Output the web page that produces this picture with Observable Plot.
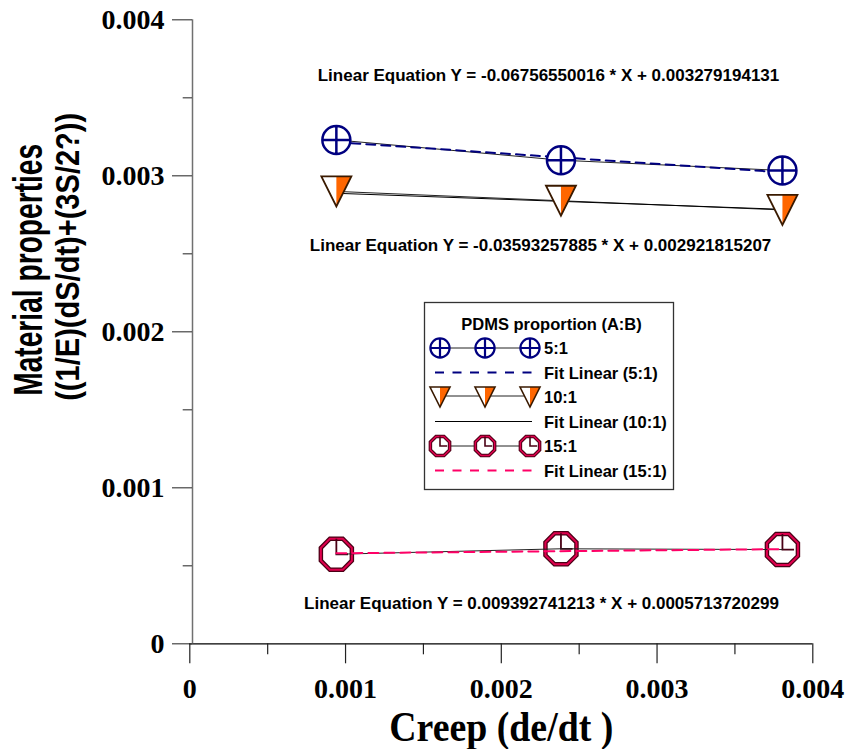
<!DOCTYPE html>
<html><head><meta charset="utf-8">
<script src="https://cdn.jsdelivr.net/npm/d3@7"></script>
<script src="https://cdn.jsdelivr.net/npm/@observablehq/plot@0.6"></script>
<style>body{margin:0;background:#fff}#chart{width:847px;height:749px}</style>
</head><body><div id="chart"></div>
<script>
// ---- data ----
const creep = [0.000941, 0.002383, 0.003805];
const ratio5 = [0.00323, 0.0031, 0.003034];
const ratio10 = [0.0029, 0.00284, 0.002781];
const ratio15 = [0.000574, 0.000609, 0.000604];
const fitX = [0.000941, 0.003805];
const fit5 = [0.0032156, 0.0030221];
const fit10 = [0.002888, 0.002785];
const fit15 = [0.0005802, 0.000607];
const equations = [
  "Linear Equation Y = -0.06756550016 * X + 0.003279194131",
  "Linear Equation Y = -0.03593257885 * X + 0.002921815207",
  "Linear Equation Y = 0.009392741213 * X + 0.0005713720299"];
const eqX = [0.002303, 0.002252, 0.002258];
const eqY = [0.003643, 0.002553, 0.000258];
const majorTicks = [0, 0.001, 0.002, 0.003, 0.004];
const minorTicks = [0.0005, 0.0015, 0.0025, 0.0035];
const tickLabels = ["0", "0.001", "0.002", "0.003", "0.004"];
const xTitle = "Creep (de/dt )";
const yTitle1 = "Material properties";
const yTitle2 = "((1/E)(dS/dt)+(3S/2?))";
const legendTitle = "PDMS proportion (A:B)";
const legendLabels = ["5:1", "Fit Linear (5:1)", "10:1", "Fit Linear (10:1)", "15:1", "Fit Linear (15:1)"];

const SANS = "Liberation Sans, Arial, sans-serif";
const SERIF = "Liberation Serif, Times New Roman, serif";
const NAVY = "#000080", ORANGE = "#FF6600", BROWN = "#3a1a00", CRIMSON = "#E0004E", DARKRED = "#4a0015", PINK = "#FF0066";

// ---- custom symbols ----
const rOf = s => Math.sqrt(s / Math.PI);
const circleCross = {draw(c, s) {const r = rOf(s); c.moveTo(r, 0); c.arc(0, 0, r, 0, 2 * Math.PI); c.closePath(); c.moveTo(-r, 0); c.lineTo(r, 0); c.moveTo(0, -r); c.lineTo(0, r);}};
const triDown = {draw(c, s) {const r = rOf(s); c.moveTo(-r, -r); c.lineTo(r, -r); c.lineTo(0, r); c.closePath();}};
const triHalf = {draw(c, s) {const r = rOf(s); c.moveTo(0, -r); c.lineTo(r, -r); c.lineTo(0, r); c.closePath();}};
const octagon = {draw(c, s) {const r = rOf(s); const R = r / Math.cos(Math.PI / 8);
  for (let k = 0; k < 8; k++) {const a = Math.PI / 8 + k * Math.PI / 4; const px = R * Math.cos(a), py = R * Math.sin(a); if (k) c.lineTo(px, py); else c.moveTo(px, py);} c.closePath();}};
const clockHand = {draw(c, s) {const r = rOf(s); c.moveTo(0, -r); c.lineTo(0, 0); c.lineTo(r * 0.75, 0);}};

const rows = ys => creep.map((x, i) => ({x, y: ys[i]}));
const frows = ys => fitX.map((x, i) => ({x, y: ys[i]}));
const pts5 = rows(ratio5), pts10 = rows(ratio10), pts15 = rows(ratio15);
const eqs = equations.map((t, i) => ({t, x: eqX[i], y: eqY[i]}));

const plot = Plot.plot({
  width: 847, height: 749,
  marginLeft: 189.3, marginRight: 34.7, marginTop: 19.3, marginBottom: 105.7,
  x: {domain: [0, 0.004], axis: null},
  y: {domain: [0, 0.004], axis: null},
  style: {background: "white", overflow: "visible"},
  marks: [
    // axes
    Plot.ruleY([0], {x1: 0, x2: 0.004, stroke: "#000", strokeWidth: 1.2}),
    Plot.ruleX([0], {y1: 0, y2: 0.004, dx: 2.7, stroke: "#707070", strokeWidth: 1.5}),
    Plot.axisY(majorTicks, {tickSize: 20, dx: 2.7, tickPadding: 8, stroke: "#444", strokeWidth: 1.2,
      tickFormat: d => tickLabels[majorTicks.indexOf(d)], fontSize: 28, fontFamily: SERIF, fontWeight: "bold", fill: "#000", label: null}),
    Plot.axisY(minorTicks, {tickSize: 9.3, dx: 2.7, stroke: "#444", strokeWidth: 1.2, tickFormat: () => "", label: null}),
    Plot.axisX(majorTicks, {tickSize: 20, tickPadding: 14, stroke: "#222", strokeWidth: 1.2,
      tickFormat: d => tickLabels[majorTicks.indexOf(d)], fontSize: 28, fontFamily: SERIF, fontWeight: "bold", fill: "#000", label: null}),
    Plot.axisX(minorTicks, {tickSize: 11, stroke: "#222", strokeWidth: 1.2, tickFormat: () => "", label: null}),
    // titles
    Plot.text([xTitle], {frameAnchor: "bottom", dy: 84, text: d => d, fontSize: 42, fontFamily: SERIF, fontWeight: "bold", lineAnchor: "middle", textAnchor: "middle"}),
    Plot.text([yTitle1], {frameAnchor: "left", rotate: -90, dx: -161, dy: -62, text: d => d, fontSize: 40, fontFamily: SANS, fontWeight: "bold", lineAnchor: "middle", textAnchor: "middle"}),
    Plot.text([yTitle2], {frameAnchor: "left", rotate: -90, dx: -121, dy: -75, text: d => d, fontSize: 33, fontFamily: SANS, fontWeight: "bold", lineAnchor: "middle", textAnchor: "middle"}),
    // equations
    Plot.text(eqs, {x: "x", y: "y", text: "t", fontSize: 17, fontFamily: SANS, fontWeight: "bold", fill: "#000"}),
    // 5:1 and 10:1 lines below markers
    Plot.line(pts5, {x: "x", y: "y", stroke: "#222", strokeWidth: 1}),
    Plot.line(frows(fit5), {x: "x", y: "y", stroke: NAVY, strokeWidth: 2, strokeDasharray: "9,6"}),
    Plot.line(pts10, {x: "x", y: "y", stroke: "#222", strokeWidth: 1}),
    Plot.line(frows(fit10), {x: "x", y: "y", stroke: "#000", strokeWidth: 1}),
    // markers
    Plot.dot(pts5, {x: "x", y: "y", r: 14, symbol: circleCross, fill: "white", stroke: NAVY, strokeWidth: 2.5}),
    Plot.dot(pts10, {x: "x", y: "y", r: 15, symbol: triDown, fill: "white", stroke: "none"}),
    Plot.dot(pts10, {x: "x", y: "y", r: 15, symbol: triHalf, fill: ORANGE, stroke: "none"}),
    Plot.dot(pts10, {x: "x", y: "y", r: 15, symbol: triDown, fill: "none", stroke: BROWN, strokeWidth: 1.8}),
    Plot.dot(pts15, {x: "x", y: "y", r: 15.5, symbol: octagon, fill: "white", stroke: DARKRED, strokeWidth: 4.5}),
    Plot.dot(pts15, {x: "x", y: "y", r: 15.5, symbol: octagon, fill: "none", stroke: CRIMSON, strokeWidth: 2}),
    Plot.dot(pts15, {x: "x", y: "y", r: 15.5, symbol: clockHand, fill: "none", stroke: DARKRED, strokeWidth: 1.8}),
    // 15:1 lines over markers
    Plot.line(pts15, {x: "x", y: "y", stroke: "#222", strokeWidth: 1}),
    Plot.line(frows(fit15), {x: "x", y: "y", stroke: PINK, strokeWidth: 2, strokeDasharray: "10,6"})
  ]
});
document.getElementById("chart").appendChild(plot);

// condensed titles (the reference uses narrow lettering)
const svg = d3.select(plot);
const squeeze = (txt, len) => svg.selectAll("text").filter(function () {return this.textContent === txt;})
  .attr("textLength", len).attr("lengthAdjust", "spacingAndGlyphs");
squeeze(yTitle1, 252);
squeeze(yTitle2, 288);
squeeze(xTitle, 224);

// ---- legend ----
const lg = svg.append("g").attr("text-anchor", "start");
lg.append("rect").attr("x", 424.5).attr("y", 302.5).attr("width", 249).attr("height", 187)
  .attr("fill", "white").attr("stroke", "#333").attr("stroke-width", 1.3);
lg.append("text").attr("x", 551.5).attr("y", 324).attr("dominant-baseline", "central").attr("text-anchor", "middle")
  .attr("font-family", SANS).attr("font-weight", "bold").attr("font-size", 16.5).text(legendTitle);
const rowY = [348, 372.5, 397, 421.5, 446, 470.5];
const symX = [440, 485, 530];
const sym = (type, r) => d3.symbol().type(type).size(r * r * Math.PI)();
legendLabels.forEach((lab, i) => {
  lg.append("text").attr("x", 544).attr("y", rowY[i]).attr("dominant-baseline", "central").attr("text-anchor", "start")
    .attr("font-family", SANS).attr("font-weight", "bold").attr("font-size", 16.5).attr("fill", "#000").text(lab);
});
// row 0: 5:1
lg.append("line").attr("x1", 440).attr("x2", 530).attr("y1", rowY[0]).attr("y2", rowY[0]).attr("stroke", "#222");
symX.forEach(x => lg.append("path").attr("transform", `translate(${x},${rowY[0]})`).attr("d", sym(circleCross, 9.6)).attr("fill", "white").attr("stroke", NAVY).attr("stroke-width", 2.2));
// row 1
lg.append("line").attr("x1", 435).attr("x2", 532).attr("y1", rowY[1]).attr("y2", rowY[1]).attr("stroke", NAVY).attr("stroke-width", 2).attr("stroke-dasharray", "9,8.5");
// row 2: 10:1
lg.append("line").attr("x1", 440).attr("x2", 530).attr("y1", rowY[2] - 1).attr("y2", rowY[2] - 1).attr("stroke", "#222");
symX.forEach(x => {
  const g = lg.append("g").attr("transform", `translate(${x},${rowY[2]})`);
  g.append("path").attr("d", sym(triDown, 10)).attr("fill", "white");
  g.append("path").attr("d", sym(triHalf, 10)).attr("fill", ORANGE);
  g.append("path").attr("d", sym(triDown, 10)).attr("fill", "none").attr("stroke", BROWN).attr("stroke-width", 1.6);
});
// row 3
lg.append("line").attr("x1", 435).attr("x2", 532).attr("y1", rowY[3]).attr("y2", rowY[3]).attr("stroke", "#000").attr("stroke-width", 1.2);
// row 4: 15:1
lg.append("line").attr("x1", 440).attr("x2", 530).attr("y1", rowY[4]).attr("y2", rowY[4]).attr("stroke", "#222");
symX.forEach(x => {
  const g = lg.append("g").attr("transform", `translate(${x},${rowY[4]})`);
  g.append("path").attr("d", sym(octagon, 9.6)).attr("fill", "white").attr("stroke", DARKRED).attr("stroke-width", 3.5);
  g.append("path").attr("d", sym(octagon, 9.6)).attr("fill", "none").attr("stroke", CRIMSON).attr("stroke-width", 1.5);
  g.append("path").attr("d", sym(clockHand, 9.6)).attr("fill", "none").attr("stroke", DARKRED).attr("stroke-width", 1.6);
});
// row 5
lg.append("line").attr("x1", 435).attr("x2", 532).attr("y1", rowY[5]).attr("y2", rowY[5]).attr("stroke", PINK).attr("stroke-width", 2).attr("stroke-dasharray", "9,8.5");
</script></body></html>
